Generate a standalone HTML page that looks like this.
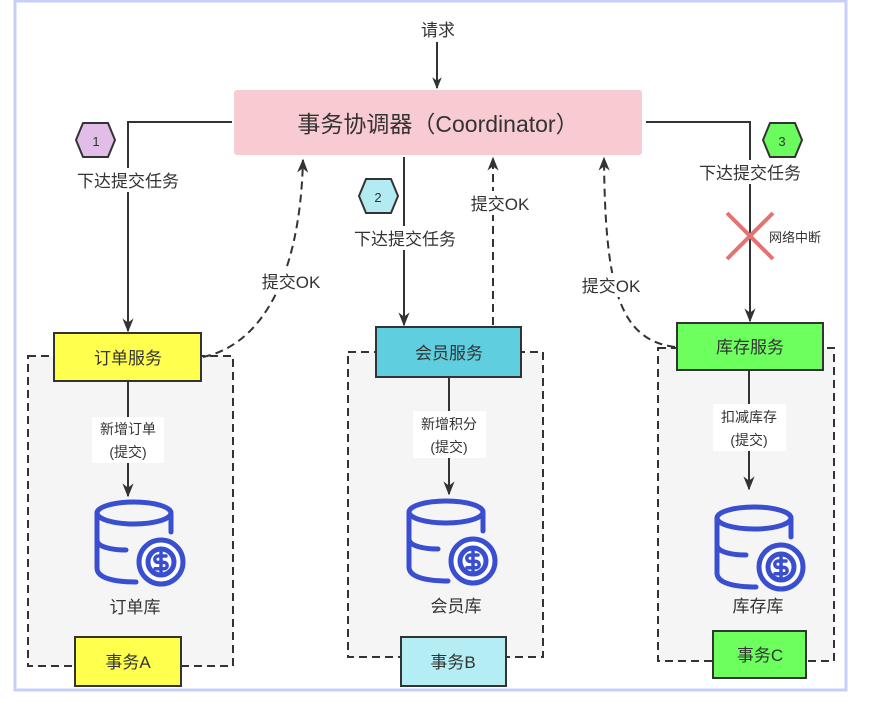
<!DOCTYPE html>
<html><head><meta charset="utf-8"><style>
html,body{margin:0;padding:0;background:#fff;}
text{font-family:"Liberation Sans","Noto Sans CJK SC",sans-serif;fill:#333;}
</style></head><body>
<svg width="878" height="702" viewBox="0 0 878 702" xmlns="http://www.w3.org/2000/svg">
<defs>
<marker id="ar" viewBox="0 0 10 10" refX="9" refY="5" markerWidth="12" markerHeight="12" orient="auto" markerUnits="userSpaceOnUse"><path d="M0,1 L10,5 L0,9 L3,5z" fill="#333"/></marker>
<marker id="ab" viewBox="0 0 10 10" refX="9" refY="5" markerWidth="14" markerHeight="14" orient="auto" markerUnits="userSpaceOnUse"><path d="M0,1 L10,5 L0,9 L3,5z" fill="#333"/></marker>
<g id="db" fill="none" stroke="#3a4fd0" stroke-width="5" stroke-linecap="round">
<ellipse cx="40" cy="13" rx="37" ry="11"/>
<path d="M3,13 V68 C3,78 20,82 42,82"/>
<path d="M3,40 C3,47 18,50 32,50"/>
<path d="M77,13 V32"/>
<circle cx="67" cy="62" r="22" fill="#fff"/>
<circle cx="67" cy="62" r="13"/>
<path d="M72,56 H64 a3.2,3.2 0 0 0 0,6.4 h6 a3.2,3.2 0 0 1 0,6.4 H61 M67,52 V72" stroke-width="3.5"/>
</g>
</defs>
<rect x="15" y="1" width="831" height="689" fill="#fff" stroke="#c5cff8" stroke-width="3"/>
<rect x="28" y="356" width="205" height="310" fill="#f5f5f5" stroke="#333" stroke-width="2" stroke-dasharray="8,5"/>
<rect x="348" y="352" width="195" height="305" fill="#f5f5f5" stroke="#333" stroke-width="2" stroke-dasharray="8,5"/>
<rect x="658" y="348" width="176" height="313" fill="#f5f5f5" stroke="#333" stroke-width="2" stroke-dasharray="8,5"/>
<rect x="234" y="90" width="408" height="65" rx="3" fill="#f7cbd1"/>
<text x="438" y="132" font-size="23" text-anchor="middle">事务协调器（Coordinator）</text>
<line x1="437" y1="42" x2="437" y2="88" stroke="#333" stroke-width="2" marker-end="url(#ar)"/>
<text x="438" y="36" font-size="17" text-anchor="middle">请求</text>
<path d="M232,122 H128 V331" fill="none" stroke="#333" stroke-width="2" marker-end="url(#ab)"/>
<path d="M404,157 V325" fill="none" stroke="#333" stroke-width="2" marker-end="url(#ab)"/>
<path d="M646,122 H750 V321" fill="none" stroke="#333" stroke-width="2" marker-end="url(#ab)"/>
<path d="M203,357 C260,345 300,280 303,160" fill="none" stroke="#333" stroke-width="2" stroke-dasharray="8,5" marker-end="url(#ab)"/>
<path d="M493,325 V158" fill="none" stroke="#333" stroke-width="2" stroke-dasharray="8,5" marker-end="url(#ab)"/>
<path d="M675,347 C620,340 605,290 604,158" fill="none" stroke="#333" stroke-width="2" stroke-dasharray="8,5" marker-end="url(#ab)"/>
<rect x="68" y="168" width="120" height="24" fill="#fff"/>
<text x="128" y="187" font-size="17" text-anchor="middle">下达提交任务</text>
<rect x="345" y="226" width="120" height="24" fill="#fff"/>
<text x="405" y="245" font-size="17" text-anchor="middle">下达提交任务</text>
<rect x="690" y="160" width="120" height="24" fill="#fff"/>
<text x="750" y="179" font-size="17" text-anchor="middle">下达提交任务</text>
<rect x="255" y="269" width="74" height="24" fill="#fff"/>
<text x="291" y="288" font-size="17" text-anchor="middle">提交OK</text>
<rect x="464" y="191" width="74" height="24" fill="#fff"/>
<text x="500" y="210" font-size="17" text-anchor="middle">提交OK</text>
<rect x="574" y="273" width="74" height="24" fill="#fff"/>
<text x="611" y="292" font-size="17" text-anchor="middle">提交OK</text>
<polygon points="76,140 83,123 108,123 115,140 108,157 83,157" fill="#e1bee7" stroke="#333" stroke-width="2"/>
<text x="96" y="146" font-size="13" text-anchor="middle">1</text>
<polygon points="359,196 366,179 391,179 398,196 391,213 366,213" fill="#b2ebf2" stroke="#333" stroke-width="2"/>
<text x="378" y="202" font-size="13" text-anchor="middle">2</text>
<polygon points="763,140 770,123 795,123 802,140 795,157 770,157" fill="#6cfb5e" stroke="#333" stroke-width="2"/>
<text x="782" y="146" font-size="13" text-anchor="middle">3</text>
<path d="M727,213 L773,259 M773,213 L727,259" stroke="#e57373" stroke-width="4"/>
<text x="769" y="242" font-size="13">网络中断</text>
<rect x="54" y="333" width="147" height="48" fill="#ffff4d" stroke="#333" stroke-width="2"/>
<text x="128" y="364" font-size="17" text-anchor="middle">订单服务</text>
<rect x="376" y="327" width="145" height="50" fill="#5fcfdf" stroke="#333" stroke-width="2"/>
<text x="449" y="359" font-size="17" text-anchor="middle">会员服务</text>
<rect x="677" y="323" width="146" height="47" fill="#6cff5e" stroke="#333" stroke-width="2"/>
<text x="750" y="353" font-size="17" text-anchor="middle">库存服务</text>
<line x1="128" y1="381" x2="128" y2="496" stroke="#333" stroke-width="2" marker-end="url(#ab)"/>
<line x1="449" y1="377" x2="449" y2="494" stroke="#333" stroke-width="2" marker-end="url(#ab)"/>
<line x1="749" y1="370" x2="749" y2="489" stroke="#333" stroke-width="2" marker-end="url(#ab)"/>
<rect x="92" y="417" width="72" height="46" fill="#fff"/>
<text x="128" y="434" font-size="14" text-anchor="middle">新增订单</text>
<text x="128" y="457" font-size="14" text-anchor="middle">(提交)</text>
<rect x="413" y="411" width="73" height="47" fill="#fff"/>
<text x="449" y="429" font-size="14" text-anchor="middle">新增积分</text>
<text x="449" y="452" font-size="14" text-anchor="middle">(提交)</text>
<rect x="713" y="404" width="73" height="47" fill="#fff"/>
<text x="749" y="422" font-size="14" text-anchor="middle">扣减库存</text>
<text x="749" y="445" font-size="14" text-anchor="middle">(提交)</text>
<use href="#db" x="94" y="500"/>
<use href="#db" x="406" y="499"/>
<use href="#db" x="714" y="505"/>
<text x="135" y="613" font-size="17" text-anchor="middle">订单库</text>
<text x="456" y="612" font-size="17" text-anchor="middle">会员库</text>
<text x="758" y="612" font-size="17" text-anchor="middle">库存库</text>
<rect x="75" y="637" width="106" height="49" fill="#ffff4d" stroke="#333" stroke-width="2"/>
<text x="128" y="668" font-size="17" text-anchor="middle">事务A</text>
<rect x="401" y="637" width="105" height="49" fill="#b4eef4" stroke="#333" stroke-width="2"/>
<text x="453" y="668" font-size="17" text-anchor="middle">事务B</text>
<rect x="713" y="631" width="93" height="47" fill="#6cff5e" stroke="#333" stroke-width="2"/>
<text x="760" y="661" font-size="17" text-anchor="middle">事务C</text>
</svg>
</body></html>
